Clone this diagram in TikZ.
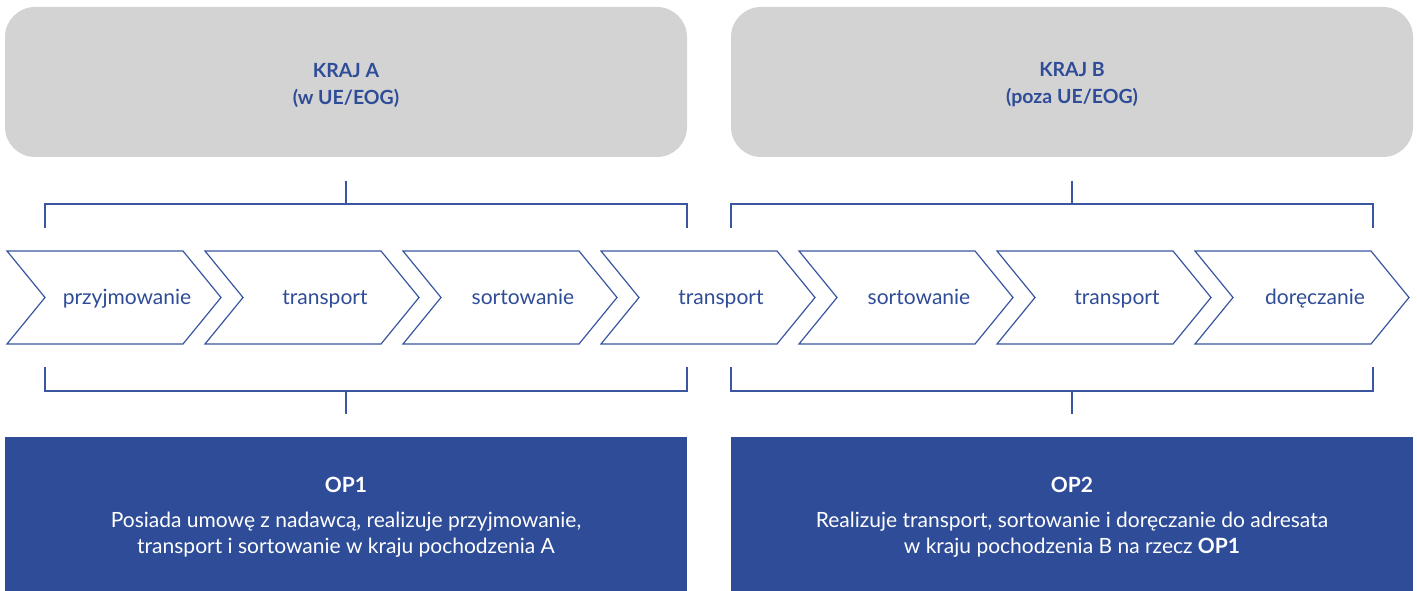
\documentclass[tikz,border=0pt]{standalone}
\usepackage{fontspec}
\setmainfont{Lato}
\definecolor{pblue}{HTML}{2E4C97}
\definecolor{pline}{HTML}{3A56A0}
\definecolor{pgray}{HTML}{D3D3D3}
\tikzset{
  graybox/.style={fill=pgray, rounded corners=30pt, minimum width=682pt, minimum height=150pt, inner sep=0pt,
    text=pblue, align=center, font=\bfseries\fontsize{19.5}{27}\selectfont},
  bluebox/.style={fill=pblue, minimum width=682pt, minimum height=154pt, inner sep=0pt,
    text=white, align=center, font=\fontsize{21}{26}\selectfont},
  graytext/.style={text=pblue, align=center, font=\bfseries\fontsize{19.5}{27}\selectfont},
  bluetext/.style={text=white, align=center, font=\fontsize{21}{26}\selectfont},
  chev/.style={draw=pline, line width=1.2pt, line join=miter},
  chevlabel/.style={text=pblue, font=\fontsize{21}{24}\selectfont, inner sep=0pt, anchor=base},
  brk/.style={draw=pline, line width=1.2pt}
}
\begin{document}
\begin{tikzpicture}[x=1pt,y=-1pt]
\useasboundingbox (0,0) rectangle (1417,591);
% country boxes
\node[graybox] (ka) at (346,82) {};
\node[graybox] (kb) at (1072,82) {};
\node[graytext] (kat) at (346,85) {KRAJ A\\(w UE/EOG)};
\node[graytext] (kbt) at (1072,85) {KRAJ B\\(poza UE/EOG)};
% operator boxes
\node[bluebox] (op1) at (346,514) {};
\node[bluebox] (op2) at (1072,514) {};
\node[bluetext] (op1t) at (346,517) {\textbf{OP1}\\[9pt]Posiada umowę z nadawcą, realizuje przyjmowanie,\\transport i sortowanie w kraju pochodzenia A};
\node[bluetext] (op2t) at (1072,517) {\textbf{OP2}\\[9pt]Realizuje transport, sortowanie i doręczanie do adresata\\w kraju pochodzenia B na rzecz \textbf{OP1}};
% chevrons
\foreach \i/\t in {0/przyjmowanie,1/transport,2/sortowanie,3/transport,4/sortowanie,5/transport,6/doręczanie}{
  \pgfmathsetmacro{\xo}{7+198*\i}
  \draw[chev] (\xo,251) -- (\xo+176,251) -- (\xo+214,297.5) -- (\xo+176,344) -- (\xo,344) -- (\xo+38,297.5) -- cycle;
  \node[chevlabel] (c\i) at (\xo+120,304) {\t};
}
% brackets
\coordinate (tla) at (45,228); \coordinate (tlb) at (687,228);
\coordinate (tra) at (731,228); \coordinate (trb) at (1373,228);
\coordinate (bla) at (45,367); \coordinate (blb) at (687,367);
\coordinate (bra) at (731,367); \coordinate (brb) at (1373,367);
\draw[brk] (tla) -- ++(0,-24) -| (tlb);
\draw[brk] (tra) -- ++(0,-24) -| (trb);
\draw[brk] (bla) -- ++(0,24) -| (blb);
\draw[brk] (bra) -- ++(0,24) -| (brb);
\draw[brk] (346,181) -- (346,204);
\draw[brk] (1072,181) -- (1072,204);
\draw[brk] (346,391) -- (346,414);
\draw[brk] (1072,391) -- (1072,414);
\end{tikzpicture}
\end{document}
